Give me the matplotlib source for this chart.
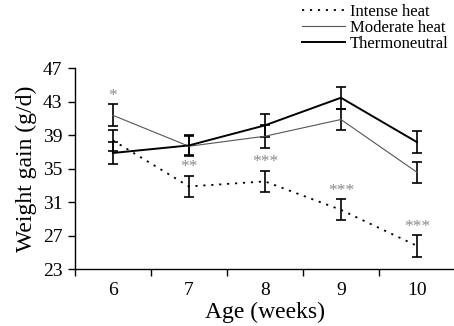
import numpy as np
import matplotlib
matplotlib.use("Agg")
from matplotlib import pyplot as plt
from matplotlib.ticker import FixedLocator

plt.rcParams['font.family'] = ['Liberation Serif', 'DejaVu Serif']

# data
weeks = [6, 7, 8, 9, 10]
intense = [38.4, 32.9, 33.5, 30.1, 25.8]
intense_err = [1.3, 1.3, 1.3, 1.25, 1.3]
moderate = [41.4, 37.7, 38.9, 40.9, 34.6]
moderate_err = [1.3, 1.2, 1.4, 1.3, 1.25]
thermo = [36.9, 37.8, 40.2, 43.5, 38.2]
thermo_err = [1.35, 1.2, 1.4, 1.3, 1.3]
stars = ['*', '**', '***', '***', '***']

fig = plt.figure(figsize=(4.54, 3.26), dpi=100)
ax = fig.add_axes([0.165, 0.174, 0.837, 0.616])

x = np.array(weeks)
eb_kw = dict(ecolor='black', elinewidth=1.2, capsize=3.8, capthick=1.2)

ax.errorbar(x, intense, yerr=intense_err, color='black', lw=1.3,
            linestyle=(0, (1.2, 3.2)), label='Intense heat', **eb_kw)
ax.errorbar(x, moderate, yerr=moderate_err, color='#555555', lw=0.8,
            label='Moderate heat', **eb_kw)
ax.errorbar(x, thermo, yerr=thermo_err, color='black', lw=1.4,
            label='Thermoneutral', **eb_kw)

# significance stars above the intense heat bars (week 6 sits above the whole cluster)
tops = np.array([np.add(s, e) for s, e in
                 [(intense, intense_err), (moderate, moderate_err), (thermo, thermo_err)]])
for i, s in enumerate(stars):
    y = tops[:, i].max() if i == 0 else tops[0, i]
    ax.text(x[i], y + 0.5, s, ha='center', va='baseline', fontsize=12.5,
            color='#8a8a8a')

ax.set_xlim(5.5, 10.5)
ax.set_ylim(23, 47)
ax.set_yticks(np.arange(23, 48, 4))
ax.set_xticks(weeks)
ax.xaxis.set_minor_locator(FixedLocator(np.arange(5.5, 10.6, 1)))
ax.tick_params(axis='x', which='major', length=0, pad=9, labelsize=14)
ax.tick_params(axis='x', which='minor', length=5, width=1, direction='out')
ax.tick_params(axis='y', length=5, width=1, direction='out', pad=4, labelsize=14)

for side in ['top', 'right']:
    ax.spines[side].set_visible(False)
for side in ['left', 'bottom']:
    ax.spines[side].set_linewidth(1)

ax.set_xlabel('Age (weeks)', fontsize=17, labelpad=2)
ax.set_ylabel('Weight gain (g/d)', fontsize=17, labelpad=4)

h, l = ax.get_legend_handles_labels()
h = [hh[0] for hh in h]
fig.legend(h, l, loc='upper left', bbox_to_anchor=(302 / 454, 1 - 4 / 326), frameon=False,
           fontsize=12, handlelength=2.6, handletextpad=0.25, labelspacing=0.0,
           borderpad=0, borderaxespad=0)

fig.savefig('out.png', dpi=100)
